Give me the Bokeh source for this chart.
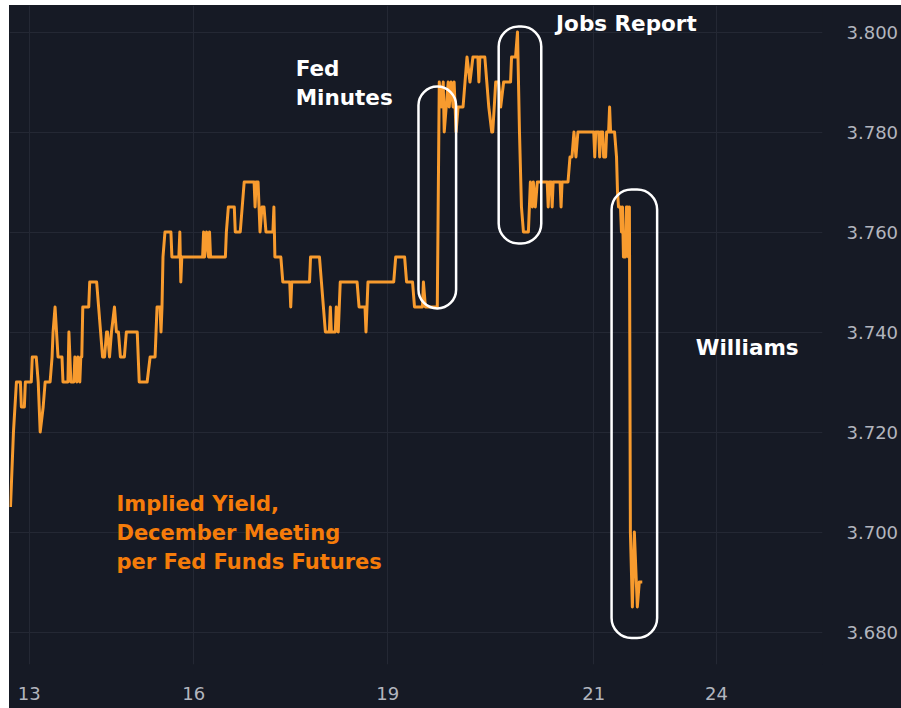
import numpy as np
from bokeh.plotting import figure
from bokeh.models import Range1d, FixedTicker, BoxAnnotation, Label, NumeralTickFormatter
from bokeh.embed import file_html
from bokeh.resources import INLINE

# ---------------- data (bar index, implied yield) ----------------
bars = [2, 4, 5, 8, 12, 13, 16, 17, 23, 24, 28, 30, 32, 35, 37, 42, 44, 45, 47, 50, 54, 55, 60, 61, 63,
        66, 67, 69, 70, 72, 73, 74, 75, 81, 82, 89, 91, 93, 95, 97, 99, 100, 102, 104, 107, 109, 111,
        113, 117, 119, 130, 132, 140, 143, 148, 149, 150, 153, 154, 155, 156, 158, 164, 165, 172, 173,
        174, 175, 196, 197, 198, 200, 202, 203, 204, 219, 220, 222, 228, 229, 234, 236, 238, 248, 249,
        250, 252, 253, 254, 256, 258, 260, 267, 268, 269, 275, 277, 284, 285, 286, 304, 305, 314, 316,
        318, 320, 324, 325, 326, 330, 331, 333, 335, 352, 354, 360, 361, 363, 389, 391, 400, 402, 408,
        410, 418, 419, 421, 433, 435, 437, 439, 440, 442, 444, 445, 447, 449, 450, 452, 454, 459, 461,
        463, 466, 469, 474, 475, 476, 481, 483, 485, 488, 489, 492, 495, 497, 500, 507, 508, 512, 514,
        516, 518, 520, 525, 527, 529, 530, 532, 534, 544, 545, 546, 548, 549, 550, 557, 558, 559, 565,
        567, 569, 571, 573, 575, 591, 592, 593, 596, 597, 598, 600, 601, 603, 604, 606, 607, 608, 612,
        614, 615, 616, 618, 619, 620, 621, 623, 624, 625, 626, 627, 628, 630, 632, 635, 637, 640]
yields = [3.705, 3.715, 3.720, 3.730, 3.730, 3.725, 3.725, 3.730, 3.730, 3.735, 3.735, 3.730, 3.720,
          3.725, 3.730, 3.730, 3.735, 3.740, 3.745, 3.735, 3.735, 3.730, 3.730, 3.740, 3.730, 3.730,
          3.735, 3.730, 3.735, 3.730, 3.735, 3.735, 3.745, 3.745, 3.750, 3.750, 3.745, 3.740, 3.735,
          3.735, 3.740, 3.740, 3.735, 3.740, 3.745, 3.740, 3.740, 3.735, 3.735, 3.740, 3.740, 3.730,
          3.730, 3.735, 3.735, 3.740, 3.745, 3.745, 3.740, 3.745, 3.755, 3.760, 3.760, 3.755, 3.755,
          3.760, 3.750, 3.755, 3.755, 3.760, 3.755, 3.760, 3.755, 3.760, 3.755, 3.755, 3.760, 3.765,
          3.765, 3.760, 3.760, 3.765, 3.770, 3.770, 3.765, 3.770, 3.770, 3.765, 3.760, 3.765, 3.765,
          3.760, 3.760, 3.765, 3.755, 3.755, 3.750, 3.750, 3.745, 3.750, 3.750, 3.755, 3.755, 3.750,
          3.745, 3.740, 3.740, 3.745, 3.740, 3.740, 3.745, 3.740, 3.750, 3.750, 3.745, 3.745, 3.740,
          3.750, 3.750, 3.755, 3.755, 3.750, 3.750, 3.745, 3.745, 3.750, 3.745, 3.745, 3.790, 3.785,
          3.790, 3.780, 3.785, 3.790, 3.785, 3.790, 3.785, 3.790, 3.780, 3.785, 3.785, 3.790, 3.795,
          3.790, 3.795, 3.795, 3.790, 3.795, 3.795, 3.790, 3.785, 3.780, 3.780, 3.790, 3.790, 3.785,
          3.790, 3.790, 3.795, 3.795, 3.800, 3.780, 3.765, 3.760, 3.760, 3.770, 3.765, 3.770, 3.765,
          3.770, 3.770, 3.765, 3.770, 3.770, 3.765, 3.770, 3.770, 3.765, 3.770, 3.770, 3.775, 3.775,
          3.780, 3.775, 3.780, 3.780, 3.775, 3.780, 3.780, 3.775, 3.780, 3.780, 3.775, 3.775, 3.780,
          3.780, 3.785, 3.780, 3.780, 3.775, 3.768, 3.765, 3.765, 3.760, 3.765, 3.755, 3.755, 3.765,
          3.765, 3.755, 3.765, 3.700, 3.685, 3.700, 3.685, 3.690, 3.690]

x_tick_bars = [21, 187, 383, 591, 715]
x_tick_labels = ["13", "16", "19", "21", "24"]
y_ticks = [3.68, 3.70, 3.72, 3.74, 3.76, 3.78, 3.80]

# ---------------- styling ----------------
BG = "#161a25"
GRID = "#242834"
LINE = "#f89b2e"
TEXT_ORANGE = "#f57c0a"
AXIS_TXT = "#b2b5be"
FONT = "DejaVu Sans"

MARGIN_L, MARGIN_T = 9, 5          # white strip of the original screenshot
W, H = 901 - MARGIN_L, 708 - MARGIN_T
FR_RIGHT_PAGE, FR_BOT_PAGE = 830, 664
FR_W = FR_RIGHT_PAGE - MARGIN_L
FR_H = FR_BOT_PAGE - MARGIN_T
BAR_OFF = 8                         # page x of bar 0
Y_REF, Y_REF_PAGE, PX_PER_UNIT = 3.800, 31.5, 5000.0


def px_x(page_x):
    return page_x - BAR_OFF


def px_y(page_y):
    return Y_REF - (page_y - Y_REF_PAGE) / PX_PER_UNIT


p = figure(width=W, height=H, output_backend="svg", toolbar_location=None,
           x_range=Range1d(px_x(MARGIN_L), px_x(FR_RIGHT_PAGE)),
           y_range=Range1d(px_y(FR_BOT_PAGE), px_y(MARGIN_T)),
           y_axis_location="right",
           min_border_left=0, min_border_top=0, min_border_right=W - FR_W,
           min_border_bottom=H - FR_H,
           background_fill_color=BG, border_fill_color=BG)
p.outline_line_color = None
p.margin = (MARGIN_T, 0, 0, MARGIN_L)
p.styles = {"background-color": BG}

xt = FixedTicker(ticks=x_tick_bars)
yt = FixedTicker(ticks=y_ticks)
p.xaxis.ticker = xt
p.yaxis.ticker = yt
p.xgrid.ticker = xt
p.ygrid.ticker = yt
p.xgrid.grid_line_color = GRID
p.ygrid.grid_line_color = GRID

p.xaxis.major_label_overrides = {t: lab for t, lab in zip(x_tick_bars, x_tick_labels)}
p.yaxis.formatter = NumeralTickFormatter(format="0.000")

p.axis.axis_line_color = None
p.axis.major_tick_line_color = None
p.axis.minor_tick_line_color = None
p.axis.major_label_text_color = AXIS_TXT
p.axis.major_label_text_font = FONT
p.axis.major_label_text_font_size = "18px"
p.xaxis.major_label_standoff = 16
p.yaxis.major_label_standoff = 18

p.line(bars, yields, line_color=LINE, line_width=3, line_join="round")

# rounded event boxes
boxes = [(422, 460, 86, 308), (503, 546, 26, 243), (617, 663, 189, 637.5)]
for l, r, t, b in boxes:
    p.add_layout(BoxAnnotation(left=px_x(l), right=px_x(r), top=px_y(t), bottom=px_y(b),
                               fill_alpha=0, line_color="white", line_alpha=1.0,
                               line_width=2.5, border_radius=20))

# white event labels (x = left edge, y = baseline, page pixels)
for txt, xx, yy in [("Fed", 298, 68), ("Minutes", 298, 97), ("Jobs Report", 561, 23),
                    ("Williams", 702, 347)]:
    p.add_layout(Label(x=px_x(xx), y=px_y(yy), text=txt, text_color="white",
                       text_font=FONT, text_font_style="bold", text_font_size="21.5px",
                       text_baseline="alphabetic", text_align="left"))

# orange caption
for txt, yy in [("Implied Yield,", 503), ("December Meeting", 532), ("per Fed Funds Futures", 561)]:
    p.add_layout(Label(x=px_x(117), y=px_y(yy), text=txt, text_color=TEXT_ORANGE,
                       text_font=FONT, text_font_style="bold", text_font_size="21px",
                       text_baseline="alphabetic", text_align="left"))

open("out.html", "w").write(file_html(p, INLINE))
